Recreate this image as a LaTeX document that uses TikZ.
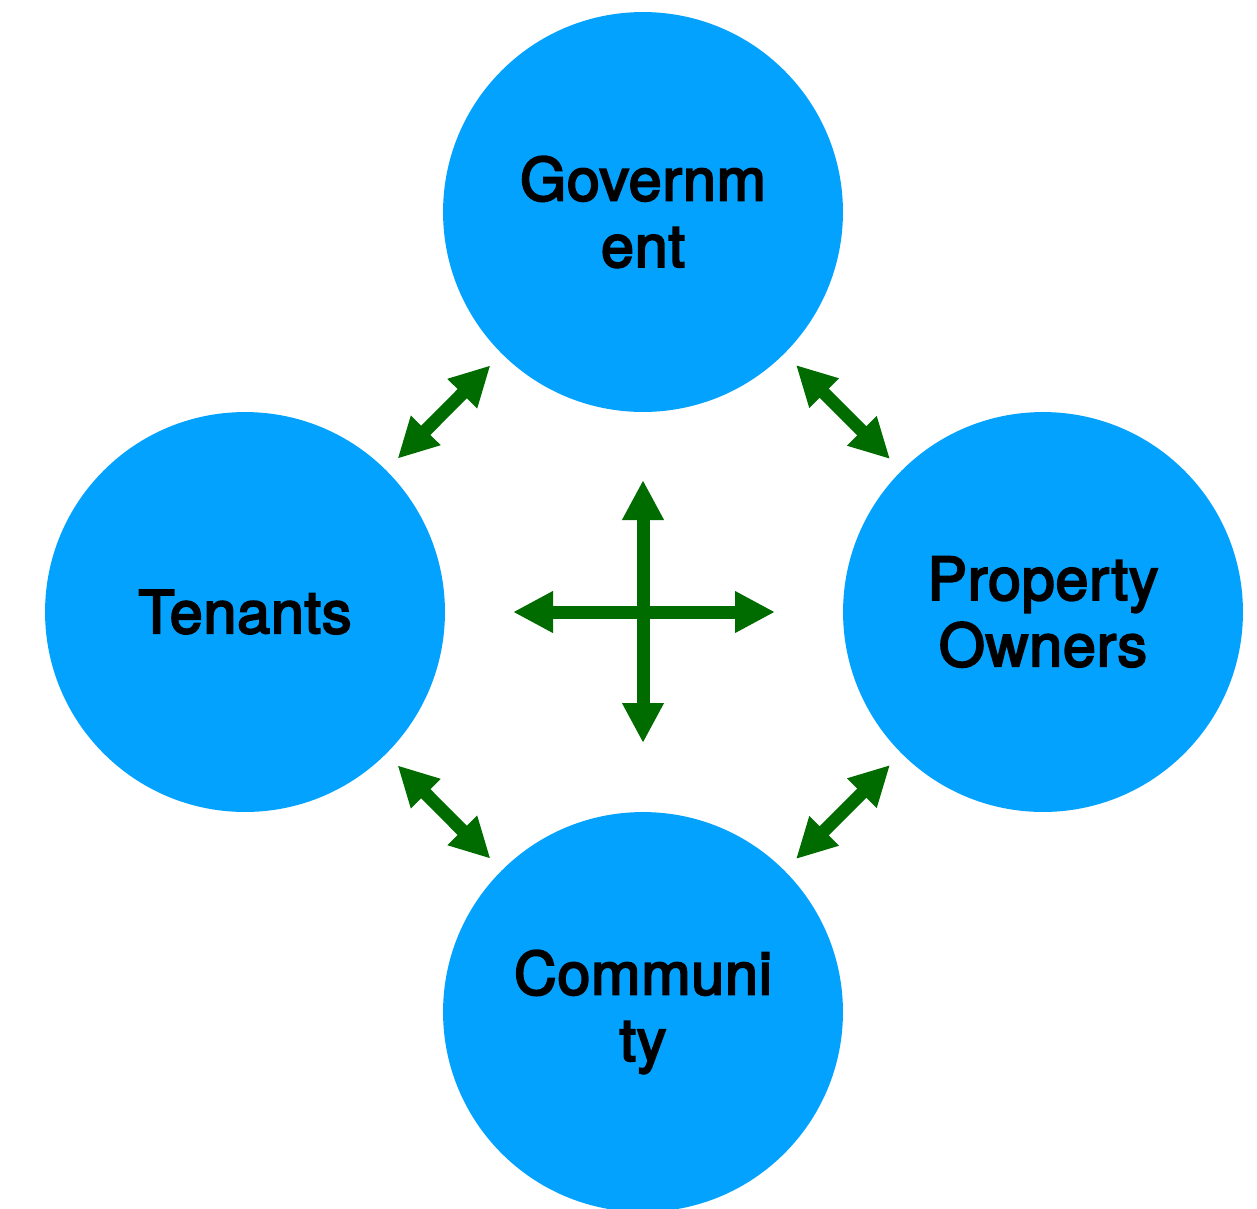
\documentclass[tikz,border=0pt]{standalone}
\usepackage{fontspec}
\setmainfont{TeX Gyre Heros}
\newfontfamily\rolefont[FakeBold=3.5,LetterSpace=1.5]{TeX Gyre Heros}
\usetikzlibrary{arrows.meta}
\definecolor{roleblue}{HTML}{04A2FF}
\definecolor{linkgreen}{HTML}{006C00}
\tikzset{
  role/.style={circle,fill=roleblue,minimum size=8cm,inner sep=0pt,align=center,
    font=\rolefont\fontsize{33.6}{37.8}\selectfont},
  link/.style={{Triangle[length=0.8cm,width=0.78cm]}-{Triangle[length=0.8cm,width=0.78cm]},
    draw=linkgreen,line width=0.26cm,shorten <=0.32cm,shorten >=0.32cm},
}
\begin{document}
\begin{tikzpicture}[x=0.02cm,y=-0.02cm]
  \useasboundingbox (0,0) rectangle (1257,1208);
  \begin{scope}
  \clip (0,0) rectangle (1257,1208);
  \node[role] (gov) at (643,212) {Governm\\ent};
  \node[role] (ten) at (245,612) {Tenants};
  \node[role] (own) at (1043,612) {Property\\Owners};
  \node[role] (com) at (643,1012) {Communi\\ty};
  \end{scope}
  \draw[link] (gov) -- (ten);
  \draw[link] (gov) -- (own);
  \draw[link] (ten) -- (com);
  \draw[link] (own) -- (com);
  % cross in the middle
  \coordinate (hub) at (643,612);
  \coordinate (hubl) at (513,612);
  \coordinate (hubr) at (775,612);
  \coordinate (hubt) at (643,480);
  \coordinate (hubb) at (643,743);
  \draw[link,shorten <=0pt,shorten >=0pt] (hubl) -- (hubr);
  \draw[link,shorten <=0pt,shorten >=0pt] (hubt) -- (hubb);
\end{tikzpicture}
\end{document}
